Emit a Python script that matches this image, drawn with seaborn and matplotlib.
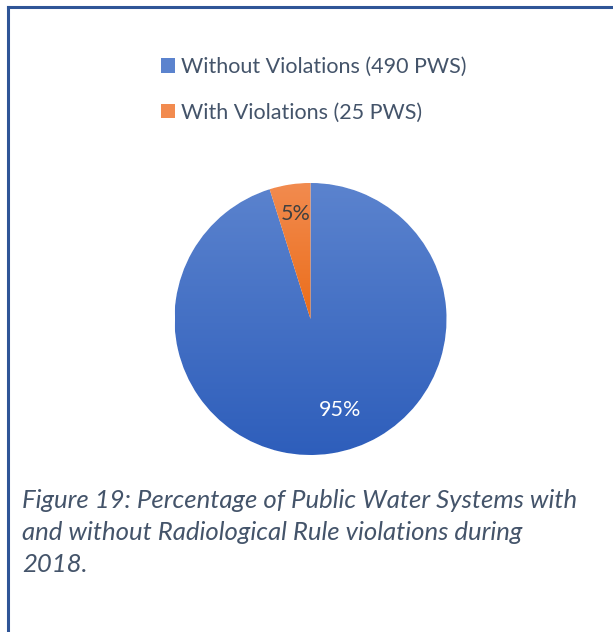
import numpy as np
import seaborn as sns
from matplotlib import pyplot as plt
from matplotlib.colors import LinearSegmentedColormap
from matplotlib.lines import Line2D

# data
labels = ["Without Violations (490 PWS)", "With Violations (25 PWS)"]
counts = [490, 25]
# top / bottom colours of the gradient fill for each slice
top_colors = ["#5b83ce", "#f28b4f"]
bottom_colors = ["#2e5ebb", "#eb6d1a"]

caption = ("Figure 19: Percentage of Public Water Systems with\n"
           "and without Radiological Rule violations during\n"
           "2018.")

W, H = 613, 632


def main():
    sns.set_theme(style="white")
    plt.rcParams["font.family"] = ["Lato", "DejaVu Sans"]

    fig = plt.figure(figsize=(W / 100, H / 100), dpi=100)
    fig.patch.set_facecolor("white")

    # pie axes: centre at (310.5, 319) px, radius 136 px
    r = 136
    cx, cy = 310.5, 319
    ax = fig.add_axes([(cx - r) / W, (H - cy - r) / H, 2 * r / W, 2 * r / H])

    wedges, texts, autotexts = ax.pie(
        counts,
        startangle=90,
        counterclock=False,
        colors=top_colors,
        autopct="%1.0f%%",
        pctdistance=0.75,
        wedgeprops=dict(edgecolor="white", linewidth=0.8),
        textprops=dict(fontsize=15.5),
    )
    ax.set_xlim(-1, 1)
    ax.set_ylim(-1, 1)
    ax.axis("off")

    # gradient fill clipped to each wedge, spanning the wedge's own height
    grad = np.linspace(0, 1, 256).reshape(-1, 1)
    for w, c_top, c_bot in zip(wedges, top_colors, bottom_colors):
        verts = w.get_path().vertices
        y0, y1 = verts[:, 1].min(), verts[:, 1].max()
        cmap = LinearSegmentedColormap.from_list("g", [c_top, c_bot])
        im = ax.imshow(grad, cmap=cmap, extent=[-1, 1, y0, y1], aspect="auto",
                       origin="upper", zorder=w.get_zorder() + 0.1)
        im.set_clip_path(w)
    ax.set_xlim(-1, 1)
    ax.set_ylim(-1, 1)

    autotexts[0].set_color("white")
    autotexts[0].set_position((0.22, -0.67))
    autotexts[1].set_color("#404040")
    autotexts[1].set_position((-0.11, 0.77))
    for t in autotexts:
        t.set_zorder(5)

    # legend
    leg = fig.legend(
        wedges, labels,
        loc="upper left",
        bbox_to_anchor=(161 / W, 1 - 57 / H),
        frameon=False,
        fontsize=15.5,
        handlelength=0.65,
        handleheight=0.65,
        handletextpad=0.3,
        labelspacing=1.2,
        borderpad=0,
        borderaxespad=0,
        labelcolor="#44546a",
    )
    for h, c in zip(leg.legend_handles, top_colors):
        h.set_facecolor(c)
        h.set_edgecolor("none")

    # caption
    fig.text(22 / W, 1 - 489 / H, caption, ha="left", va="top",
             fontsize=18.5, style="italic", color="#44546a", linespacing=1.47)

    # frame (left and top edges)
    frame = "#2f5597"
    fig.add_artist(Line2D([7.5 / W, 7.5 / W], [0, 1 - 6.5 / H],
                          transform=fig.transFigure, color=frame, lw=2.2,
                          solid_capstyle="projecting"))
    fig.add_artist(Line2D([7.5 / W, 1], [1 - 6.5 / H, 1 - 6.5 / H],
                          transform=fig.transFigure, color=frame, lw=2.2,
                          solid_capstyle="projecting"))

    fig.savefig("out.png", dpi=100)


if __name__ == "__main__":
    main()
